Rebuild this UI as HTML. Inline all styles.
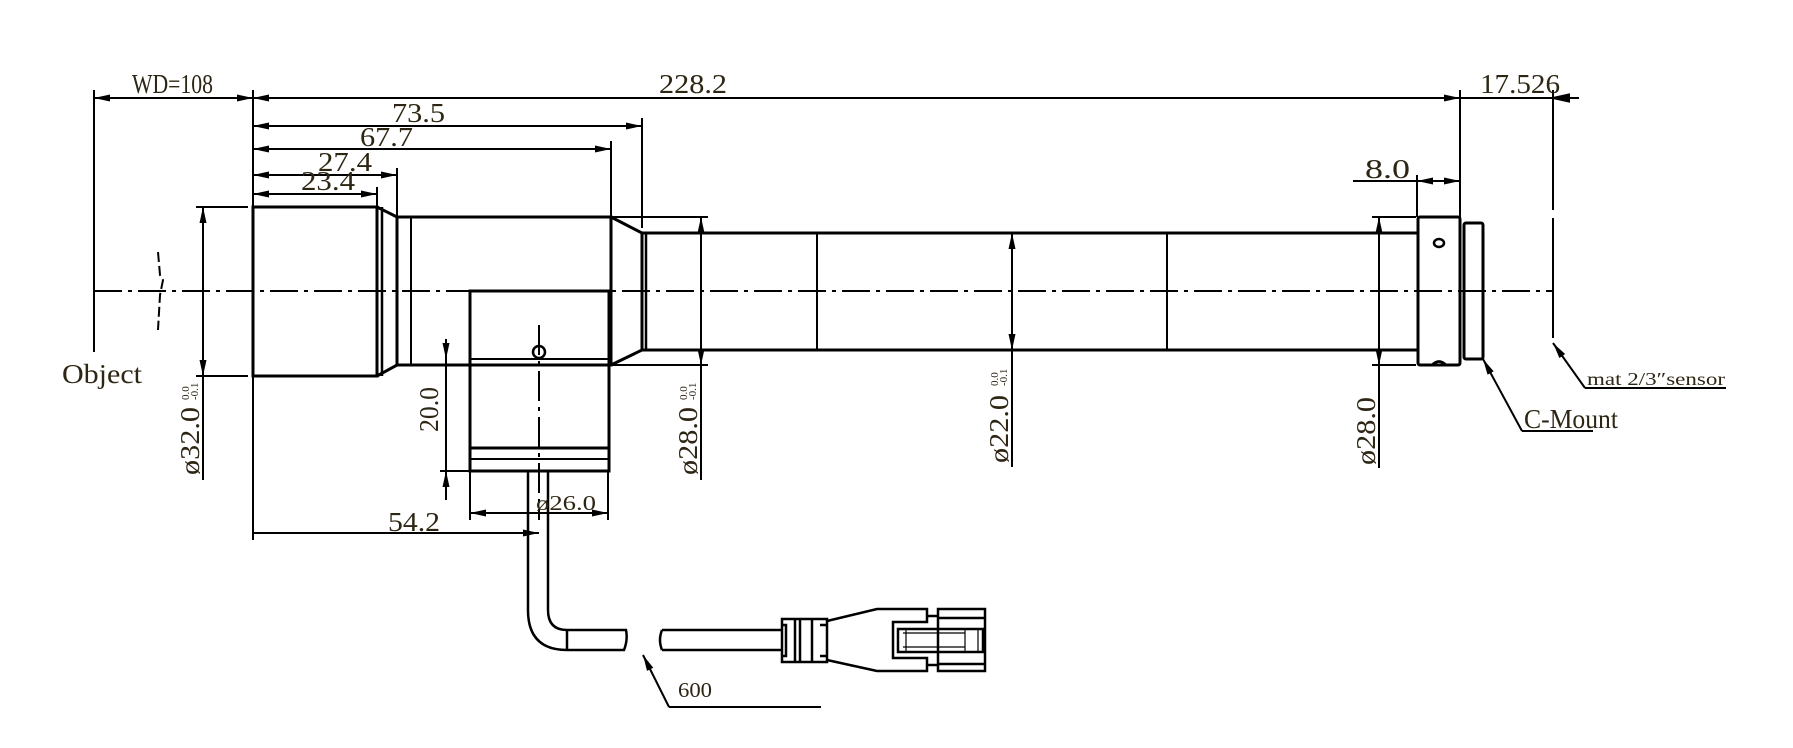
<!DOCTYPE html>
<html><head><meta charset="utf-8"><style>
html,body{margin:0;padding:0;background:#fff;}
svg{display:block;}
text{font-family:"Liberation Serif",serif;fill:#2e2614;}
</style></head><body>
<svg width="1793" height="748" viewBox="0 0 1793 748" xmlns="http://www.w3.org/2000/svg">
<defs>
<marker id="a" viewBox="0 0 16 7" refX="16" refY="3.5" markerWidth="16" markerHeight="7" markerUnits="userSpaceOnUse" orient="auto-start-reverse"><path d="M0,0 L16,3.5 L0,7 z" fill="#000"/></marker>
</defs>
<g stroke="#000" fill="none" stroke-width="2">
<line x1="94" y1="291" x2="1553" y2="291" stroke-dasharray="28,6,4,6"/>
<path d="M158,252 L160,275 L163,280 L160,295 L158,330" stroke-dasharray="10,4"/>
<line x1="94" y1="90" x2="94" y2="352"/>
<line x1="253" y1="90" x2="253" y2="540"/>
<line x1="1460" y1="90" x2="1460" y2="217"/>
<line x1="1553" y1="90" x2="1553" y2="343" stroke-dasharray="120,8"/>
<line x1="642" y1="118" x2="642" y2="228"/>
<line x1="611" y1="141" x2="611" y2="217"/>
<line x1="397" y1="168" x2="397" y2="217"/>
<line x1="377" y1="187" x2="377" y2="207"/>
<line x1="1417" y1="175" x2="1417" y2="217"/>
<line x1="94" y1="98" x2="253" y2="98" marker-start="url(#a)" marker-end="url(#a)"/>
<line x1="253" y1="98" x2="1460" y2="98" marker-start="url(#a)" marker-end="url(#a)"/>
<line x1="1460" y1="98" x2="1579" y2="98"/>
<path d="M1569,94.5 L1553,98 L1569,101.5 z" fill="#000"/>
<line x1="253" y1="126" x2="642" y2="126" marker-start="url(#a)" marker-end="url(#a)"/>
<line x1="253" y1="149" x2="611" y2="149" marker-start="url(#a)" marker-end="url(#a)"/>
<line x1="253" y1="175" x2="397" y2="175" marker-start="url(#a)" marker-end="url(#a)"/>
<line x1="253" y1="194" x2="377" y2="194" marker-start="url(#a)" marker-end="url(#a)"/>
<line x1="1353" y1="181" x2="1417" y2="181"/>
<line x1="1417" y1="181" x2="1460" y2="181" marker-start="url(#a)" marker-end="url(#a)"/>
<g stroke-width="3">
<rect x="253" y="207" width="124" height="169"/>
<path d="M377,207 L397,217 L611,217 L611,365 L397,365 L377,376"/>
<line x1="397" y1="217" x2="397" y2="365"/>
<path d="M611,217 L642,233 L1418,233 M611,365 L642,350 L1418,350"/>
<line x1="642" y1="233" x2="642" y2="350"/>
<rect x="1418" y="217" width="42" height="148" rx="2"/>
<rect x="1464" y="223" width="19" height="136" rx="2"/>
<rect x="470" y="291" width="139" height="180"/>
<line x1="470" y1="448" x2="609" y2="448"/>
<line x1="470" y1="365" x2="609" y2="365"/>
</g>
<line x1="382" y1="207" x2="382" y2="376" stroke-width="2.5"/>
<line x1="411" y1="217" x2="411" y2="365"/>
<line x1="646" y1="233" x2="646" y2="350" stroke-width="2.5"/>
<line x1="470" y1="359" x2="609" y2="359"/>
<line x1="470" y1="459" x2="609" y2="459"/>
<line x1="817" y1="233" x2="817" y2="350"/>
<line x1="1167" y1="233" x2="1167" y2="350"/>
<ellipse cx="1439" cy="243" rx="5" ry="4" stroke-width="2.5"/>
<path d="M1432,365 Q1439,358 1446,365" stroke-width="2.5"/>
<ellipse cx="539" cy="352" rx="6" ry="6" stroke-width="2.5"/>
<line x1="539" y1="325" x2="539" y2="520" stroke-dasharray="30,6,4,6"/>
<line x1="196" y1="207" x2="248" y2="207"/><line x1="196" y1="376" x2="248" y2="376"/>
<line x1="203" y1="207" x2="203" y2="376" marker-start="url(#a)" marker-end="url(#a)"/>
<line x1="203" y1="376" x2="203" y2="480"/>
<line x1="612" y1="217" x2="708" y2="217"/><line x1="612" y1="365" x2="708" y2="365"/>
<line x1="701" y1="217" x2="701" y2="365" marker-start="url(#a)" marker-end="url(#a)"/>
<line x1="701" y1="365" x2="701" y2="480"/>
<line x1="1012" y1="233" x2="1012" y2="350" marker-start="url(#a)" marker-end="url(#a)"/>
<line x1="1012" y1="350" x2="1012" y2="467"/>
<line x1="1372" y1="217" x2="1416" y2="217"/><line x1="1372" y1="365" x2="1416" y2="365"/>
<line x1="1379" y1="217" x2="1379" y2="365" marker-start="url(#a)" marker-end="url(#a)"/>
<line x1="1379" y1="365" x2="1379" y2="468"/>
<line x1="446" y1="339" x2="446" y2="359" marker-end="url(#a)"/>
<line x1="446" y1="500" x2="446" y2="471" marker-end="url(#a)"/>
<line x1="440" y1="471" x2="470" y2="471"/>
<line x1="446" y1="359" x2="446" y2="471"/>
<line x1="470" y1="471" x2="470" y2="520"/><line x1="608" y1="471" x2="608" y2="520"/>
<line x1="470" y1="513" x2="608" y2="513" marker-start="url(#a)" marker-end="url(#a)"/>
<line x1="253" y1="533" x2="539" y2="533" marker-end="url(#a)"/>
<g stroke-width="2.5">
<path d="M528,471 L528,610 Q528,650 567,650 L624,650 Q628,640 626,630 L567,630 Q548,630 548,610 L548,471"/>
<line x1="567" y1="630" x2="567" y2="650"/>
<path d="M662,630 L781,630 M662,650 L781,650 M662,630 Q658,640 662,650"/>
<path d="M782,619 L827,619 L827,662 L782,662 Z"/>
<path d="M782,625 L786,625 L786,656 L782,656 M795,619 L795,662 M800,619 L800,662 M812,619 L812,662 M820,625 L827,625 M820,656 L827,656"/>
<path d="M827,621 L877,609 L927,609 L927,622 L893,622 L893,658 L927,658 L927,671 L877,671 L827,660"/>
<rect x="938" y="609" width="47" height="62"/>
<path d="M927,616 L938,616 M927,665 L938,665 M938,618 L985,618 M938,664 L985,664"/>
<rect x="898" y="629" width="85" height="23"/>
</g>
<path d="M903,633 L965,633 M903,647 L965,647 M906,629 L906,652 M965,629 L965,652 M978,629 L978,652" stroke-width="1.2"/>
<line x1="669" y1="707" x2="643" y2="655" marker-end="url(#a)"/>
<line x1="669" y1="707" x2="821" y2="707"/>
<line x1="1585" y1="388" x2="1553" y2="343" marker-end="url(#a)"/>
<line x1="1585" y1="388" x2="1726" y2="388"/>
<line x1="1522" y1="431" x2="1483" y2="359" marker-end="url(#a)"/>
<line x1="1522" y1="431" x2="1593" y2="431"/>
</g>
<g font-size="27">
<text x="132" y="93" textLength="81" lengthAdjust="spacingAndGlyphs">WD=108</text>
<text x="659" y="93" textLength="68" lengthAdjust="spacingAndGlyphs">228.2</text>
<text x="1480" y="93" textLength="80" lengthAdjust="spacingAndGlyphs">17.526</text>
<text x="392" y="122" textLength="53" lengthAdjust="spacingAndGlyphs">73.5</text>
<text x="360" y="146" textLength="53" lengthAdjust="spacingAndGlyphs">67.7</text>
<text x="318" y="171" textLength="54" lengthAdjust="spacingAndGlyphs">27.4</text>
<text x="301" y="190" textLength="54" lengthAdjust="spacingAndGlyphs">23.4</text>
<text x="1365" y="178" textLength="45" lengthAdjust="spacingAndGlyphs">8.0</text>
<text x="388" y="531" textLength="52" lengthAdjust="spacingAndGlyphs">54.2</text>
<text x="62" y="383" textLength="80" lengthAdjust="spacingAndGlyphs">Object</text>
<text x="1524" y="428" textLength="94" lengthAdjust="spacingAndGlyphs">C-Mount</text>
<text x="678" y="697" font-size="21" textLength="34" lengthAdjust="spacingAndGlyphs">600</text>
<text x="1587" y="385" font-size="18" textLength="138" lengthAdjust="spacingAndGlyphs">mat 2/3″sensor</text>
<text x="536" y="510" font-size="21" textLength="60" lengthAdjust="spacingAndGlyphs">ø26.0</text>
<text transform="translate(199,475) rotate(-90)" textLength="68" lengthAdjust="spacingAndGlyphs">ø32.0</text>
<text transform="translate(438,432) rotate(-90)" textLength="45" lengthAdjust="spacingAndGlyphs">20.0</text>
<text transform="translate(697,475) rotate(-90)" textLength="68" lengthAdjust="spacingAndGlyphs">ø28.0</text>
<text transform="translate(1008,463) rotate(-90)" textLength="68" lengthAdjust="spacingAndGlyphs">ø22.0</text>
<text transform="translate(1375,465) rotate(-90)" textLength="68" lengthAdjust="spacingAndGlyphs">ø28.0</text>
</g>
<g font-size="11">
<text transform="translate(189,400) rotate(-90)">0.0</text>
<text transform="translate(198,400) rotate(-90)">-0.1</text>
<text transform="translate(687,400) rotate(-90)">0.0</text>
<text transform="translate(696,400) rotate(-90)">-0.1</text>
<text transform="translate(998,386) rotate(-90)">0.0</text>
<text transform="translate(1007,386) rotate(-90)">-0.1</text>
</g>
</svg>
</body></html>
